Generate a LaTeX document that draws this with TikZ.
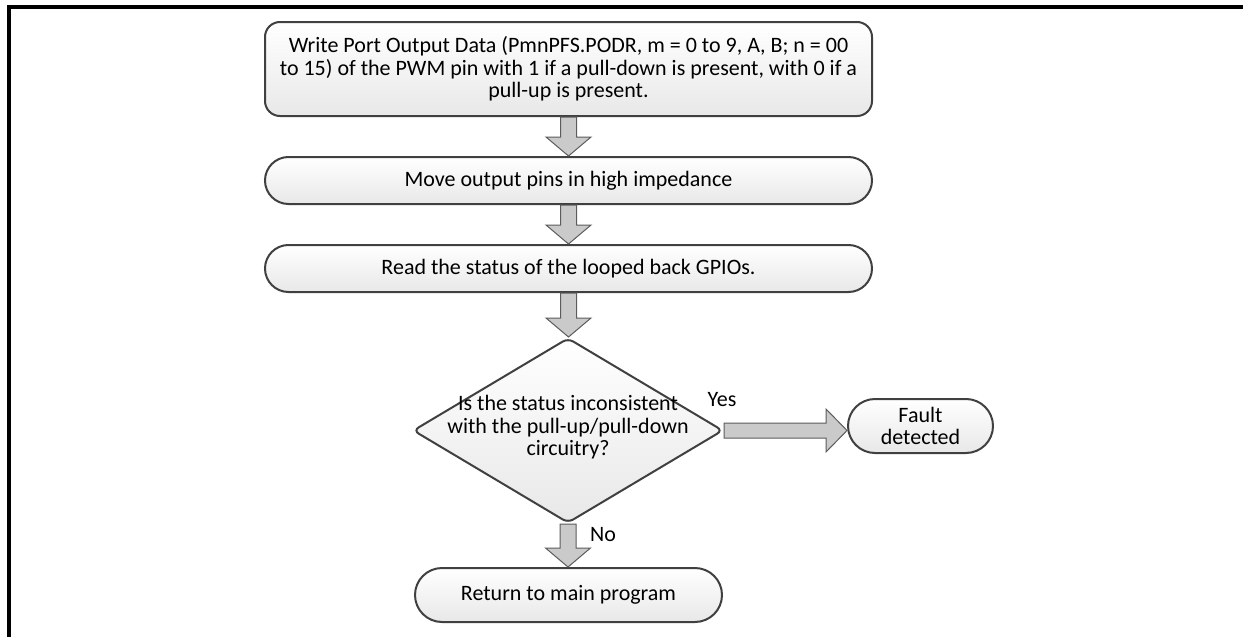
\documentclass[tikz,border=0pt]{standalone}
\usepackage{fontspec}
\setmainfont{Carlito}
\usetikzlibrary{positioning, shapes.geometric, calc}

\definecolor{boxline}{HTML}{404040}
\definecolor{arrowfill}{HTML}{CACACA}
\definecolor{arrowline}{HTML}{5C5C5C}

\begin{document}
\begin{tikzpicture}[
    x=0.5pt, y=-0.5pt,
    every node/.style={font=\fontsize{11}{11.25}\selectfont},
    stepbox/.style={draw=boxline, line width=1pt, top color=white, bottom color=black!9,
      rounded corners=11.75pt, minimum width=303.5pt, minimum height=23.5pt, inner sep=0pt, align=center},
    endbox/.style={stepbox, minimum width=153.5pt, minimum height=27pt, rounded corners=13.5pt},
    decision/.style={diamond, draw=boxline, line width=1pt, top color=white, bottom color=black!9,
      minimum width=155pt, minimum height=92.5pt, inner sep=0pt, rounded corners=3pt},
    flowdown/.style={fill=arrowfill, draw=arrowline, line width=0.5pt,
      to path={let \p1=(\tikztostart), \p2=(\tikztotarget) in
        (\x1-4pt,\y1) -- (\x1-4pt,\y2+9.5pt) -- (\x1-11.25pt,\y2+9.5pt) -- (\x1,\y2)
        -- (\x1+11.25pt,\y2+9.5pt) -- (\x1+4pt,\y2+9.5pt) -- (\x1+4pt,\y1) -- cycle}},
    flowright/.style={fill=arrowfill, draw=arrowline, line width=0.5pt,
      to path={let \p1=(\tikztostart), \p2=(\tikztotarget) in
        (\x1,\y1+3.75pt) -- (\x2-10.5pt,\y1+3.75pt) -- (\x2-10.5pt,\y1+10.75pt) -- (\x2,\y1)
        -- (\x2-10.5pt,\y1-10.75pt) -- (\x2-10.5pt,\y1-3.75pt) -- (\x1,\y1-3.75pt) -- cycle}}
  ]
  \useasboundingbox (0,0) rectangle (1243,637);

  % frame
  \draw[line width=2pt] (9,637) -- (9,7) -- (1243,7);

  % steps
  \node[stepbox, minimum height=47pt, rounded corners=7.5pt] (write) at (568.5,69)
    {Write Port Output Data (PmnPFS.PODR, m = 0 to 9, A, B; n = 00\\
     to 15) of the PWM pin with 1 if a pull-down is present, with 0 if a\\
     pull-up is present.};
  \node[stepbox] (hiz) at (568.5,180.5) {Move output pins in high impedance};
  \node[stepbox] (read) at (568.5,268.5) {Read the status of the looped back GPIOs.};

  % decision
  \node[decision, label={[name=check, align=center, yshift=1.5pt]center:{Is the status inconsistent\\
    with the pull-up/pull-down\\ circuitry?}}] (dec) at (568,430.5) {};

  % ends
  \node[endbox, minimum width=72.5pt] (fault) at (920.5,426) {Fault\\detected};
  \node[endbox] (ret) at (568.5,595) {Return to main program};

  % arrows
  \draw[flowdown] (write.south) to (hiz.north);
  \draw[flowdown] (hiz.south) to (read.north);
  \draw[flowdown] (read.south) to (dec.north);
  \draw[flowdown] (dec.south) to (ret.north);
  \draw[flowright] (dec.east) to (fault.west);

  % labels
  \node (yes) at (722,400) {Yes};
  \node (no) at (603,535) {No};
\end{tikzpicture}
\end{document}
